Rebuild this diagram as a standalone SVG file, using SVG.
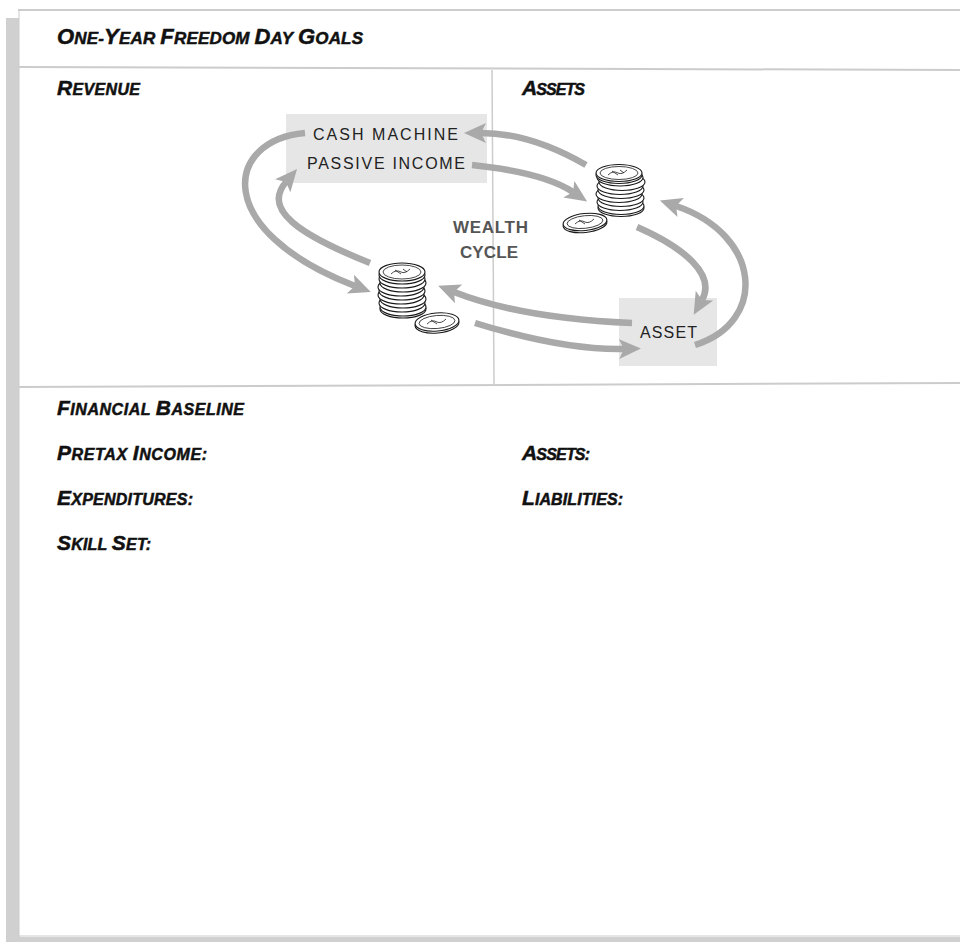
<svg xmlns="http://www.w3.org/2000/svg" width="960" height="942" viewBox="0 0 960 942">
<defs>
<style>
.hdr{font-family:"Liberation Sans",Arial,sans-serif;font-weight:bold;font-style:italic;fill:#111;stroke:#111;stroke-width:0.5;font-size:16px}
.hdr .b{font-size:21px}
.ttl{font-size:17px}
.ttl .b{font-size:22px}
.lbl{font-family:"Liberation Sans",Arial,sans-serif;fill:#222;font-size:16px}
.wc{font-family:"Liberation Sans",Arial,sans-serif;fill:#555;font-size:17px;font-weight:bold}
.rule{stroke:#cccccc;fill:none}
.arr{fill:none;stroke:#a9a9a9;stroke-width:6.5;marker-end:url(#ah)}
.box{fill:#e6e6e6}
.coin{fill:#fff;stroke:#1a1a1a;stroke-width:1.1}
.rim{fill:none;stroke:#1a1a1a;stroke-width:0.8}
</style>
<marker id="ah" markerUnits="userSpaceOnUse" markerWidth="24" markerHeight="22" viewBox="0 0 24 22" refX="5" refY="11" orient="auto">
<path d="M0,1 L22,11 L0,21 L5,11 z" fill="#a9a9a9"/>
</marker>
</defs>
<rect width="960" height="942" fill="#fff"/>
<g id="frame">
<rect x="6" y="18" width="13" height="924" fill="#d0d0d0"/>
<rect x="6" y="937" width="954" height="5" fill="#d0d0d0"/>
<line class="rule" x1="18" y1="10" x2="960" y2="10" stroke-width="2"/>
<line class="rule" x1="19" y1="10" x2="19" y2="937" stroke-width="1"/>
<line class="rule" x1="19" y1="936" x2="960" y2="936" stroke-width="1"/>
<line class="rule" x1="19" y1="67" x2="960" y2="70" stroke-width="2"/>
<line class="rule" x1="492" y1="70" x2="494" y2="385" stroke-width="1.5"/>
<line class="rule" x1="19" y1="387" x2="960" y2="383" stroke-width="2"/>
</g>
<g id="headers">
<text class="hdr ttl" x="57" y="44" textLength="306"><tspan class="b">O</tspan>NE-<tspan class="b">Y</tspan>EAR <tspan class="b">F</tspan>REEDOM <tspan class="b">D</tspan>AY <tspan class="b">G</tspan>OALS</text>
<text class="hdr" x="57" y="95" textLength="83"><tspan class="b">R</tspan>EVENUE</text>
<text class="hdr" x="522" y="95" textLength="63"><tspan class="b">A</tspan>SSETS</text>
<text class="hdr" x="57" y="415" textLength="187"><tspan class="b">F</tspan>INANCIAL <tspan class="b">B</tspan>ASELINE</text>
<text class="hdr" x="57" y="460" textLength="150"><tspan class="b">P</tspan>RETAX <tspan class="b">I</tspan>NCOME:</text>
<text class="hdr" x="57" y="505" textLength="136"><tspan class="b">E</tspan>XPENDITURES:</text>
<text class="hdr" x="57" y="550" textLength="94"><tspan class="b">S</tspan>KILL <tspan class="b">S</tspan>ET:</text>
<text class="hdr" x="522" y="460" textLength="68"><tspan class="b">A</tspan>SSETS:</text>
<text class="hdr" x="522" y="505" textLength="101"><tspan class="b">L</tspan>IABILITIES:</text>
</g>
<g id="node-cash-machine">
<rect class="box" x="286" y="114" width="201" height="69"/>
<text class="lbl" x="313" y="140" textLength="145">CASH MACHINE</text>
<text class="lbl" x="307" y="169" textLength="158">PASSIVE INCOME</text>
</g>
<g id="node-asset">
<rect class="box" x="619" y="298" width="98" height="68"/>
<text class="lbl" x="640" y="338" textLength="57">ASSET</text>
</g>
<g id="node-wealth-cycle">
<text class="wc" x="453" y="233" textLength="75">WEALTH</text>
<text class="wc" x="460" y="258" textLength="58">CYCLE</text>
</g>
<g id="connectors">
<path class="arr" d="M586,165 C560,150 522,133 481,133"/>
<path class="arr" d="M472,165 C520,170 555,180 573,192"/>
<path class="arr" d="M637,227 C685,248 716,275 702,300"/>
<path class="arr" d="M695,345 C768,322 762,235 676,206"/>
<path class="arr" d="M632,323 C560,320 500,310 454,292"/>
<path class="arr" d="M475,323 C530,340 580,350 624,349"/>
<path class="arr" d="M370,263 C300,235 262,210 286,182"/>
<path class="arr" d="M305,133 C225,140 210,230 355,286"/>
</g>
<g id="node-coins-top">
<ellipse class="coin" cx="621" cy="208" rx="23" ry="8.5"/>
<ellipse class="coin" cx="621" cy="206" rx="23" ry="8.5"/>
<ellipse class="coin" cx="620" cy="202" rx="23" ry="8.5"/>
<ellipse class="coin" cx="621" cy="198" rx="23" ry="8.5"/>
<ellipse class="coin" cx="619" cy="194" rx="23" ry="8.5"/>
<ellipse class="coin" cx="621" cy="190" rx="23" ry="8.5"/>
<ellipse class="coin" cx="620" cy="186" rx="23" ry="8.5"/>
<ellipse class="coin" cx="622" cy="182" rx="23" ry="8.5"/>
<ellipse class="coin" cx="620" cy="177.5" rx="23" ry="8.5"/>
<ellipse class="coin" cx="619" cy="175" rx="23" ry="8.5"/>
<ellipse class="coin" cx="619" cy="173" rx="23" ry="8.5"/>
<ellipse class="rim" cx="619" cy="173" rx="19" ry="6.5"/>
<path class="rim" d="M608,175 q5,-5 10,-2 q4,2 9,-3 M612,171 l6,4 M620,170 l4,3"/>
<ellipse class="coin" cx="585" cy="224" rx="22" ry="8.5" transform="rotate(-6 585 224)"/>
<ellipse class="coin" cx="585" cy="222" rx="22" ry="8.5" transform="rotate(-6 585 222)"/>
<ellipse class="rim" cx="585" cy="222" rx="18" ry="6.3" transform="rotate(-6 585 222)"/>
<path class="rim" d="M575,224 q5,-5 10,-2 q4,2 9,-3 M579,220 l6,4"/>
</g>
<g id="node-coins-bottom">
<ellipse class="coin" cx="403" cy="309" rx="23" ry="9"/>
<ellipse class="coin" cx="403" cy="307" rx="23" ry="9"/>
<ellipse class="coin" cx="402" cy="303" rx="23" ry="9"/>
<ellipse class="coin" cx="403" cy="299" rx="23" ry="9"/>
<ellipse class="coin" cx="401" cy="295" rx="23" ry="9"/>
<ellipse class="coin" cx="402" cy="291" rx="23" ry="9"/>
<ellipse class="coin" cx="401" cy="287" rx="23" ry="9"/>
<ellipse class="coin" cx="403" cy="283" rx="23" ry="9"/>
<ellipse class="coin" cx="402" cy="279" rx="23" ry="9"/>
<ellipse class="coin" cx="402" cy="275" rx="23" ry="9"/>
<ellipse class="coin" cx="402" cy="272" rx="23" ry="9"/>
<ellipse class="rim" cx="402" cy="272" rx="19" ry="7"/>
<path class="rim" d="M391,274 q5,-5 10,-2 q4,2 9,-3 M395,270 l6,4 M403,269 l4,3"/>
<ellipse class="coin" cx="437" cy="324" rx="22" ry="9" transform="rotate(-5 437 324)"/>
<ellipse class="coin" cx="437" cy="322" rx="22" ry="9" transform="rotate(-5 437 322)"/>
<ellipse class="rim" cx="437" cy="322" rx="18" ry="6.5" transform="rotate(-5 437 322)"/>
<path class="rim" d="M427,324 q5,-5 10,-2 q4,2 9,-3 M431,320 l6,4"/>
</g>
</svg>
